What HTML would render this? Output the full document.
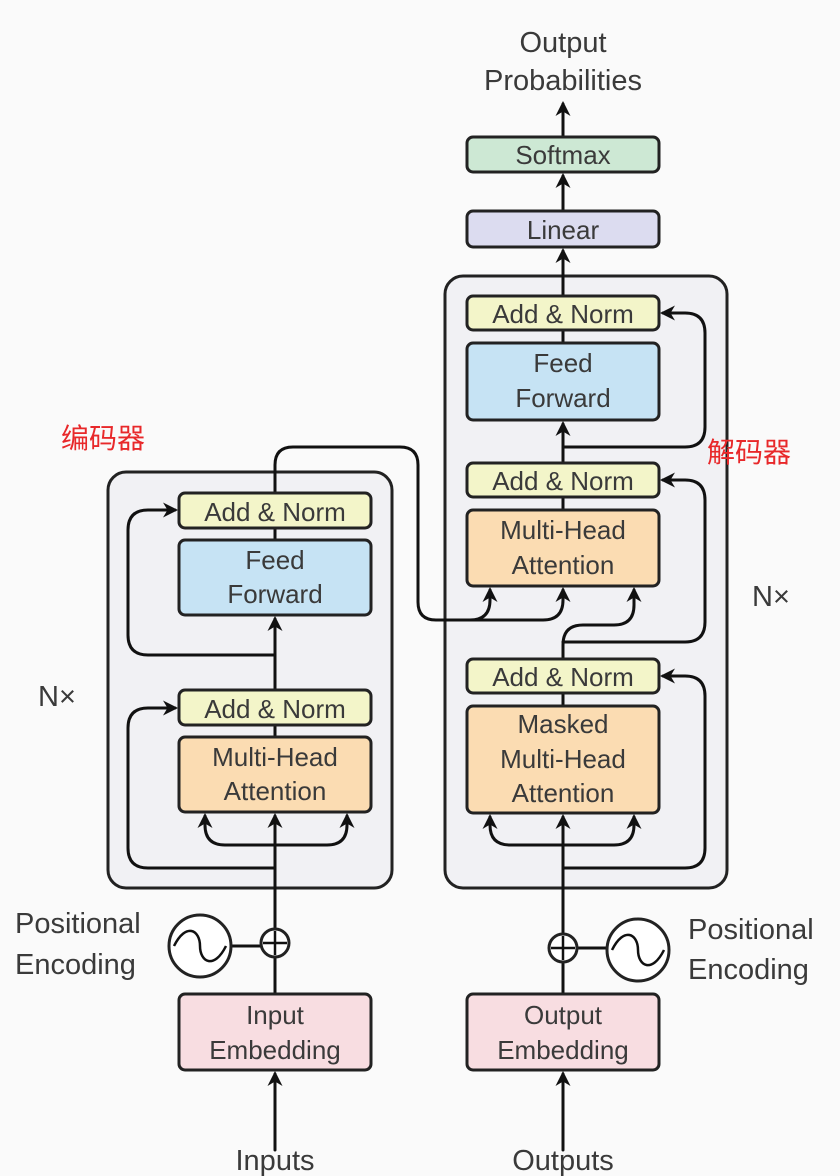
<!DOCTYPE html>
<html><head><meta charset="utf-8"><style>
html,body{margin:0;padding:0;background:#fafafa}
svg{display:block}
text{font-family:"Liberation Sans",sans-serif;fill:#3a3a3a}
</style></head><body>
<svg width="840" height="1176" viewBox="0 0 840 1176" xmlns="http://www.w3.org/2000/svg">
<defs>
<marker id="a" viewBox="0 0 10 10" refX="8" refY="5" markerWidth="5" markerHeight="5" orient="auto-start-reverse">
<path d="M0,0 L10,5 L0,10 L3,5 z" fill="#111"/></marker>
</defs>
<rect width="840" height="1176" fill="#fafafa"/>
<rect x="108" y="472" width="284" height="416" rx="18" fill="#f1f1f4" stroke="#222" stroke-width="3"/>
<rect x="445" y="276" width="282" height="612" rx="18" fill="#f1f1f4" stroke="#222" stroke-width="3"/>
<g stroke="#111" stroke-width="3" fill="none" stroke-linecap="round">
<path d="M275,1150 L275,1074" marker-end="url(#a)"/>
<path d="M275,994 L275,958"/>
<path d="M275,929 L275,816" marker-end="url(#a)"/>
<path d="M275,845 L225,845 Q205,845 205,825 L205,816" marker-end="url(#a)"/>
<path d="M275,845 L327,845 Q347,845 347,825 L347,816" marker-end="url(#a)"/>
<path d="M275,868 L148,868 Q128,868 128,848 L128,728 Q128,708 148,708 L175,708" marker-end="url(#a)"/>
<path d="M275,690 L275,619" marker-end="url(#a)"/>
<path d="M275,655 L148,655 Q128,655 128,635 L128,530 Q128,510 148,510 L175,510" marker-end="url(#a)"/>
<path d="M275,540 L275,528"/>
<path d="M275,737 L275,725"/>
<path d="M275,493 L275,465 Q275,447 293,447 L400,447 Q418,447 418,465 L418,602 Q418,620 436,620 L470,620 Q490,620 490,600 L490,590" marker-end="url(#a)"/>
<path d="M470,620 L543,620 Q563,620 563,600 L563,590" marker-end="url(#a)"/>
<path d="M232,946 L261,946"/>
<path d="M563,1150 L563,1074" marker-end="url(#a)"/>
<path d="M563,994 L563,963"/>
<path d="M563,934 L563,817" marker-end="url(#a)"/>
<path d="M563,845 L510,845 Q490,845 490,825 L490,817" marker-end="url(#a)"/>
<path d="M563,845 L614,845 Q634,845 634,825 L634,817" marker-end="url(#a)"/>
<path d="M563,868 L685,868 Q705,868 705,848 L705,696 Q705,676 685,676 L663,676" marker-end="url(#a)"/>
<path d="M563,659 L563,645 Q563,625 583,625 L614,625 Q634,625 634,605 L634,590" marker-end="url(#a)"/>
<path d="M563,642 L685,642 Q705,642 705,622 L705,500 Q705,480 685,480 L663,480" marker-end="url(#a)"/>
<path d="M563,706 L563,693"/>
<path d="M563,510 L563,497"/>
<path d="M563,463 L563,424" marker-end="url(#a)"/>
<path d="M563,447 L685,447 Q705,447 705,427 L705,333 Q705,313 685,313 L663,313" marker-end="url(#a)"/>
<path d="M563,343 L563,330"/>
<path d="M563,296 L563,251" marker-end="url(#a)"/>
<path d="M563,211 L563,176" marker-end="url(#a)"/>
<path d="M563,137 L563,104" marker-end="url(#a)"/>
<path d="M577,948 L608,948"/>
</g>
<g stroke="#222" stroke-width="3">
<rect x="179" y="493" width="192" height="35" rx="6" fill="#f3f5c9"/>
<rect x="179" y="540" width="192" height="75" rx="6" fill="#c6e3f4"/>
<rect x="179" y="690" width="192" height="35" rx="6" fill="#f3f5c9"/>
<rect x="179" y="737" width="192" height="75" rx="6" fill="#fbdcb2"/>
<rect x="179" y="994" width="192" height="76" rx="6" fill="#f8dde1"/>
<rect x="467" y="296" width="192" height="34" rx="6" fill="#f3f5c9"/>
<rect x="467" y="343" width="192" height="77" rx="6" fill="#c6e3f4"/>
<rect x="467" y="463" width="192" height="34" rx="6" fill="#f3f5c9"/>
<rect x="467" y="510" width="192" height="76" rx="6" fill="#fbdcb2"/>
<rect x="467" y="659" width="192" height="34" rx="6" fill="#f3f5c9"/>
<rect x="467" y="706" width="192" height="107" rx="6" fill="#fbdcb2"/>
<rect x="467" y="994" width="192" height="76" rx="6" fill="#f8dde1"/>
<rect x="467" y="211" width="192" height="36" rx="6" fill="#dcdcf0"/>
<rect x="467" y="137" width="192" height="35" rx="6" fill="#cde8d4"/>
<circle cx="275" cy="943" r="14" fill="#fff"/>
<circle cx="563" cy="948" r="14" fill="#fff"/>
<circle cx="200" cy="946" r="31" fill="#fff"/>
<circle cx="638" cy="950" r="31" fill="#fff"/>
</g>
<g stroke="#111" stroke-width="2.5" fill="none">
<path d="M275,931 L275,955 M263,943 L287,943"/>
<path d="M563,936 L563,960 M551,948 L575,948"/>
<path d="M174,946 C186,922 200,930 200,946 C200,962 214,970 226,946"/>
<path d="M612,950 C624,926 638,934 638,950 C638,966 652,974 664,950"/>
</g>
<g font-size="26" text-anchor="middle">
<text x="275" y="521">Add &amp; Norm</text>
<text x="275" y="569">Feed</text><text x="275" y="603">Forward</text>
<text x="275" y="718">Add &amp; Norm</text>
<text x="275" y="766">Multi-Head</text><text x="275" y="800">Attention</text>
<text x="275" y="1024">Input</text><text x="275" y="1059">Embedding</text>
<text x="563" y="323">Add &amp; Norm</text>
<text x="563" y="372">Feed</text><text x="563" y="407">Forward</text>
<text x="563" y="490">Add &amp; Norm</text>
<text x="563" y="539">Multi-Head</text><text x="563" y="574">Attention</text>
<text x="563" y="686">Add &amp; Norm</text>
<text x="563" y="733">Masked</text><text x="563" y="768">Multi-Head</text><text x="563" y="802">Attention</text>
<text x="563" y="1024">Output</text><text x="563" y="1059">Embedding</text>
<text x="563" y="239">Linear</text>
<text x="563" y="164">Softmax</text>
</g>
<g font-size="29" text-anchor="middle">
<text x="563" y="52">Output</text><text x="563" y="90">Probabilities</text>
<text x="275" y="1170">Inputs</text>
<text x="563" y="1170">Outputs</text>
</g>
<g font-size="29">
<text x="15" y="933">Positional</text><text x="15" y="974">Encoding</text>
<text x="688" y="939">Positional</text><text x="688" y="979">Encoding</text>
<text x="38" y="706">N×</text>
<text x="752" y="606">N×</text>
</g>
<g font-size="28" style="font-family:'Liberation Sans','Noto Sans CJK SC',sans-serif">
<text x="61" y="448" style="fill:#e8282a">编码器</text>
<text x="707" y="462" style="fill:#e8282a">解码器</text>
</g>
</svg>
</body></html>
